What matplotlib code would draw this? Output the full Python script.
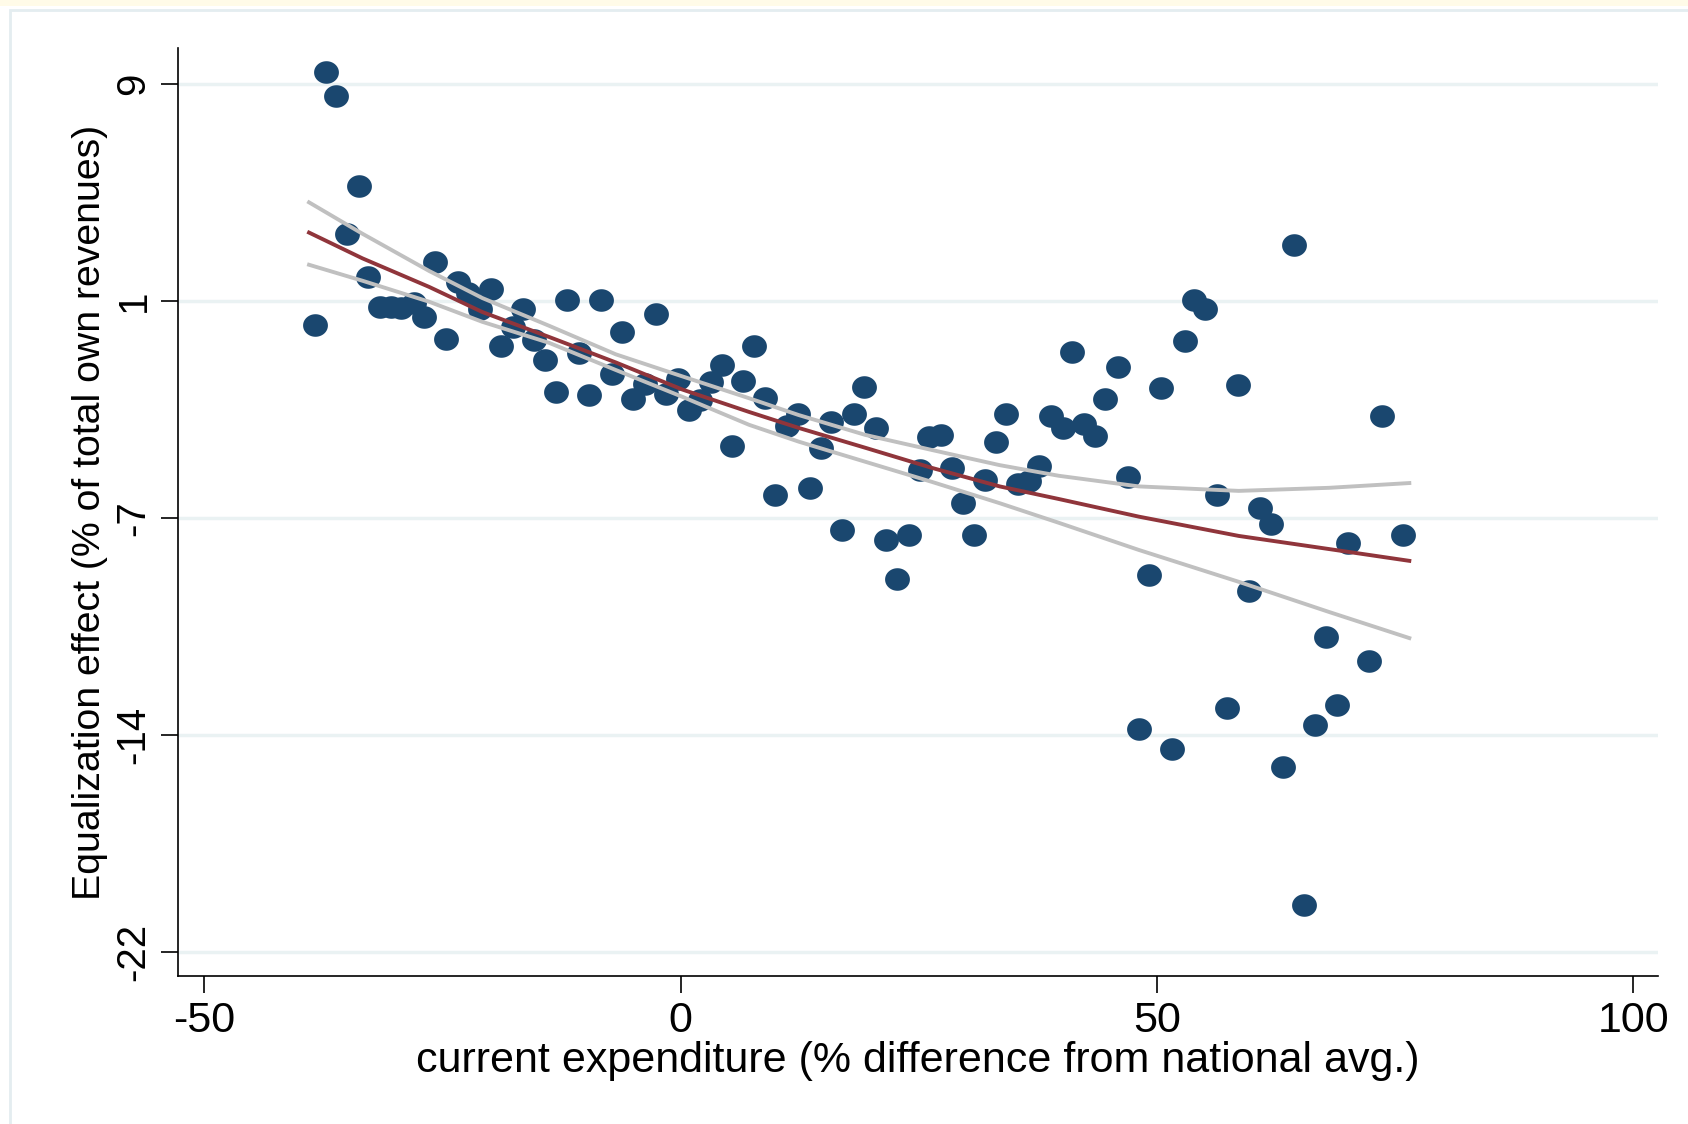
import numpy as np
import matplotlib
matplotlib.use("Agg")
import matplotlib.pyplot as plt
from matplotlib.path import Path
from matplotlib.patches import Rectangle

plt.rcParams['font.family'] = ['Liberation Sans Narrow', 'Liberation Sans', 'DejaVu Sans']

# current expenditure (% difference from national avg.)
expenditure = [-38.4, -37.2, -36.2, -35.0, -33.8, -32.8, -31.6, -30.4, -29.3, -28.0,
               -26.9, -25.8, -24.6, -23.4, -22.3, -21.1, -19.9, -18.8, -17.6, -16.5,
               -15.4, -14.2, -13.1, -11.9, -10.7, -9.6, -8.4, -7.2, -6.1, -5.0,
               -3.7, -2.6, -1.5, -0.3, 0.9, 2.0, 3.2, 4.3, 5.4, 6.6,
               7.7, 8.9, 9.9, 11.2, 12.3, 13.6, 14.7, 15.8, 16.9, 18.2,
               19.3, 20.5, 21.6, 22.7, 24.0, 25.1, 26.1, 27.3, 28.5, 29.6,
               30.8, 32.0, 33.1, 34.2, 35.4, 36.6, 37.6, 38.9, 40.1, 41.1,
               42.4, 43.5, 44.6, 45.9, 47.0, 48.1, 49.2, 50.4, 51.6, 52.9,
               53.9, 55.0, 56.3, 57.4, 58.5, 59.7, 60.8, 62.0, 63.2, 64.4,
               65.4, 66.6, 67.8, 68.9, 70.1, 72.3, 73.6, 75.8]

# equalization effect (% of total own revenues)
equalization = [0.38, 9.42, 8.58, 3.65, 5.35, 2.12, 1.04, 1.04, 1.0, 1.19,
                0.69, 2.65, -0.12, 1.92, 1.54, 0.96, 1.69, -0.35, 0.31, 0.96,
                -0.15, -0.88, -2.0, 1.27, -0.62, -2.12, 1.27, -1.35, 0.15, -2.27,
                -1.73, 0.77, -2.08, -1.54, -2.65, -2.31, -1.65, -1.04, -3.92, -1.62,
                -0.35, -2.23, -5.69, -3.23, -2.81, -5.42, -4.0, -3.08, -6.92, -2.81,
                -1.81, -3.31, -7.31, -8.69, -7.12, -4.81, -3.62, -3.54, -4.73, -5.96,
                -7.12, -5.15, -3.81, -2.81, -5.31, -5.19, -4.65, -2.88, -3.31, -0.58,
                -3.15, -3.58, -2.27, -1.12, -5.04, -14.04, -8.54, -1.85, -14.77, -0.19,
                1.27, 0.96, -5.69, -13.31, -1.77, -9.12, -6.15, -6.73, -15.42, 3.23,
                -20.35, -13.92, -10.77, -13.19, -7.42, -11.62, -2.85, -7.12]

# fitted line and 95% band
fit_x = [-39.0, -33.4, -26.4, -20.8, -13.8, -6.8, 0.2, 7.2, 12.4, 19.4,
         26.4, 33.5, 39.7, 48.1, 58.6, 68.1, 76.5]
fit_mid = [3.69, 2.77, 1.75, 0.85, -0.04, -0.95, -1.92, -2.72, -3.29, -4.0,
           -4.72, -5.38, -5.83, -6.46, -7.15, -7.62, -8.04]
fit_hi = [4.77, 3.65, 2.32, 1.35, 0.36, -0.66, -1.45, -2.23, -2.83, -3.54,
          -4.08, -4.62, -5.0, -5.38, -5.54, -5.43, -5.26]
fit_lo = [2.54, 1.97, 1.22, 0.5, -0.25, -1.22, -2.18, -3.18, -3.78, -4.5,
          -5.22, -5.98, -6.68, -7.65, -8.79, -9.87, -10.8]

x_ticks = [-50, 0, 50, 100]
y_ticks = np.linspace(9, -22, 5)
y_labels = ['9', '1', '-7', '-14', '-22']

fig = plt.figure(figsize=(16.88, 11.24), dpi=100)
fig.patches.append(Rectangle((10 / 1688, -0.01), 1.02, 1 - 10 / 1124 + 0.01,
                             transform=fig.transFigure, fill=False,
                             edgecolor='#E4EDF0', linewidth=2))
fig.patches.append(Rectangle((0, 1 - 6 / 1124), 1, 6 / 1124,
                             transform=fig.transFigure, color='#FFFBE8',
                             linewidth=0))
ax = fig.add_axes([0.1052, 0.1313, 0.877, 0.8256])

# elliptical dot, a bit wider than tall
theta = np.linspace(0, 2 * np.pi, 60)
ell = Path(np.column_stack([1.1 * np.cos(theta), np.sin(theta)]), closed=True)

ax.scatter(expenditure, equalization, marker=ell, s=320, color='#1A476F',
           linewidths=0, zorder=3)
ax.plot(fit_x, fit_hi, color='#C0C0C0', lw=2.8, zorder=4)
ax.plot(fit_x, fit_lo, color='#C0C0C0', lw=2.8, zorder=4)
ax.plot(fit_x, fit_mid, color='#90353B', lw=2.8, zorder=5)

ax.set_xlim(-52.8, 102.6)
ax.set_ylim(-22.89, 10.27)
ax.set_xticks(x_ticks)
ax.set_xticklabels([str(v) for v in x_ticks])
ax.set_yticks(y_ticks)
ax.set_yticklabels(y_labels, rotation=90, va='center')
ax.grid(axis='y', color='#EAF2F3', linewidth=2.5, zorder=0)
ax.set_axisbelow(True)
for side in ['top', 'right']:
    ax.spines[side].set_visible(False)
for side in ['left', 'bottom']:
    ax.spines[side].set_linewidth(1.2)
ax.tick_params(axis='both', length=12, width=1.2, pad=6)
ax.tick_params(axis='x', labelsize=31)
ax.tick_params(axis='y', labelsize=29)

ax.set_xlabel('current expenditure (% difference from national avg.)', fontsize=31, labelpad=0)
ax.set_ylabel('Equalization effect (% of total own revenues)', fontsize=28.3, labelpad=5)

fig.savefig('out.png', dpi=100)
